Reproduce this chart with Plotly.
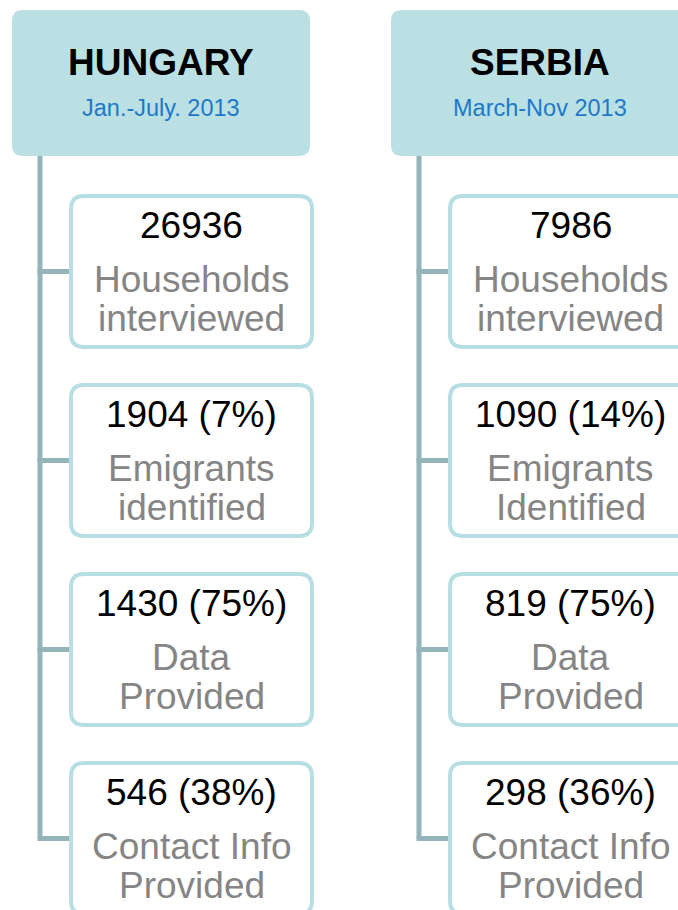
import plotly.graph_objects as go

# ── Data ─────────────────────────────────────────────────────────────
countries = ["HUNGARY", "SERBIA"]
periods = ["Jan.-July. 2013", "March-Nov 2013"]
counts = [
    ["26936", "1904 (7%)", "1430 (75%)", "546 (38%)"],
    ["7986", "1090 (14%)", "819 (75%)", "298 (36%)"],
]
labels = [
    [("Households", "interviewed"), ("Emigrants", "identified"),
     ("Data", "Provided"), ("Contact Info", "Provided")],
    [("Households", "interviewed"), ("Emigrants", "Identified"),
     ("Data", "Provided"), ("Contact Info", "Provided")],
]

# ── Style / layout ───────────────────────────────────────────────────
W, H = 678, 910
HEAD_FILL = "#bbe0e4"
BOX_LINE = "#b7dfe3"
CONNECT = "#95b4b9"
NUM_CLR = "#000000"
LBL_CLR = "#858585"
SUB_CLR = "#1f78c6"
FONT = "Arial, Liberation Sans, sans-serif"
TXT = 37

col_left = [12, 391]      # left edge of each header box
head_w, head_top, head_bot = 298, 10, 156
child_dx, child_w, child_h = 59, 241, 151
child_tops = [196, 385, 574, 763]


def rrect(x0, y0, x1, y1, r):
    return (f"M {x0+r},{y0} L {x1-r},{y0} Q {x1},{y0} {x1},{y0+r} "
            f"L {x1},{y1-r} Q {x1},{y1} {x1-r},{y1} L {x0+r},{y1} "
            f"Q {x0},{y1} {x0},{y1-r} L {x0},{y0+r} Q {x0},{y0} {x0+r},{y0} Z")


fig = go.Figure()
shapes, annots = [], []

for c, name in enumerate(countries):
    hx = col_left[c]
    # header
    shapes.append(dict(type="path", path=rrect(hx, head_top, hx + head_w, head_bot, 11),
                       fillcolor=HEAD_FILL, line=dict(width=0), layer="below"))
    cx = hx + head_w / 2
    annots.append(dict(x=cx, y=62, text=f"<b>{name}</b>",
                       font=dict(size=37, color="#000000", family=FONT)))
    annots.append(dict(x=cx, y=108, text=periods[c],
                       font=dict(size=23.5, color=SUB_CLR, family=FONT)))

    # connector
    lx = hx + 28
    mids = [t + child_h / 2 for t in child_tops]
    shapes.append(dict(type="line", x0=lx, x1=lx, y0=head_bot, y1=mids[-1],
                       line=dict(color=CONNECT, width=5)))
    bx0 = hx + child_dx
    for m in mids:
        shapes.append(dict(type="line", x0=lx - 2.5, x1=bx0, y0=m, y1=m,
                           line=dict(color=CONNECT, width=5)))

    # child boxes
    for i, top in enumerate(child_tops):
        shapes.append(dict(type="path",
                           path=rrect(bx0, top, bx0 + child_w, top + child_h, 13),
                           fillcolor="white", line=dict(color=BOX_LINE, width=4)))
        bcx = bx0 + child_w / 2
        annots.append(dict(x=bcx, y=top + 29, text=counts[c][i],
                           font=dict(size=TXT, color=NUM_CLR, family=FONT)))
        l1, l2 = labels[c][i]
        annots.append(dict(x=bcx, y=top + 83, text=l1,
                           font=dict(size=TXT, color=LBL_CLR, family=FONT)))
        annots.append(dict(x=bcx, y=top + 122, text=l2,
                           font=dict(size=TXT, color=LBL_CLR, family=FONT)))

for a in annots:
    a.update(xref="x", yref="y", showarrow=False, xanchor="center", yanchor="middle")

fig.update_layout(
    width=W, height=H,
    margin=dict(l=0, r=0, t=0, b=0),
    paper_bgcolor="white", plot_bgcolor="white",
    shapes=shapes, annotations=annots,
    showlegend=False,
    xaxis=dict(range=[0, W], visible=False, fixedrange=True),
    yaxis=dict(range=[H, 0], visible=False, fixedrange=True),
)

# drop the default page margin so the 678x910 figure fills the window exactly
fig.write_html("out.html", config={"displayModeBar": False},
               post_script="document.body.style.margin='0';"
                           "document.body.style.overflow='hidden';")
